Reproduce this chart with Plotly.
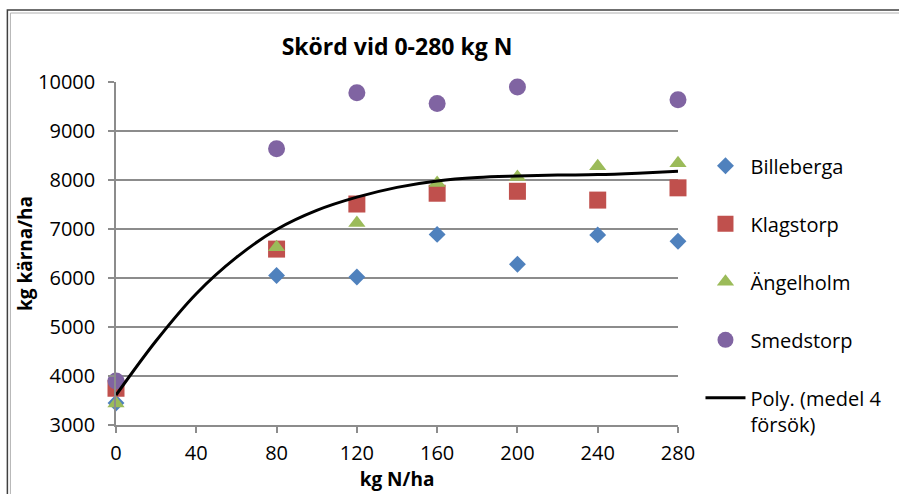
import plotly.graph_objects as go

x_n = [0, 80, 120, 160, 200, 240, 280]
billeberga = [3450, 6050, 6020, 6890, 6280, 6880, 6750]
klagstorp = [3750, 6590, 7510, 7730, 7770, 7590, 7840]
angelholm = [3440, 6630, 7120, 7940, 8060, 8280, 8340]
smed_x = [0, 80, 120, 160, 200, 280]
smedstorp = [3900, 8640, 9780, 9560, 9900, 9640]

trend_x = [0, 20, 40, 60, 80, 100, 120, 140, 160, 180, 200, 220, 240, 260, 280]
trend_y = [3610, 4720, 5680, 6420, 6990, 7380, 7650, 7850, 7980, 8050, 8080, 8100, 8110, 8140, 8180]

x_ticks = [0, 40, 80, 120, 160, 200, 240, 280]

FONT = "Open Sans"
GRID = "#8c8c8c"

fig = go.Figure()

series = [
    ("Billeberga", x_n, billeberga, "diamond", "#4F81BD", 13),
    ("Klagstorp", x_n, klagstorp, "square", "#C0504D", 17),
    ("Ängelholm", x_n, angelholm, "triangle-up", "#9BBB59", 15),
    ("Smedstorp", smed_x, smedstorp, "circle", "#8064A2", 17),
]
for name, xs, ys, sym, col, sz in series:
    fig.add_trace(go.Scatter(
        x=xs, y=ys, mode="markers", name=name, legendgroup=name,
        marker=dict(symbol=sym, color=col, size=sz, line=dict(width=0)),
        cliponaxis=False,
    ))

fig.add_trace(go.Scatter(
    x=trend_x, y=trend_y, mode="lines", name="Poly. (medel 4<br>försök)",
    legendgroup="poly", line=dict(color="black", width=3, shape="spline"),
    cliponaxis=False,
))

fig.update_layout(
    width=899, height=494,
    margin=dict(l=116, r=219, t=82, b=69),
    paper_bgcolor="white", plot_bgcolor="white",
    font=dict(family=FONT, size=20, color="black"),
    title=dict(text="<b>Skörd vid 0-280 kg N</b>", x=0.5, xref="paper",
               y=1 - 47 / 494, yanchor="middle", xanchor="center",
               font=dict(family=FONT, size=23, color="black")),
    xaxis=dict(range=[0, 280], tickvals=x_ticks, showgrid=False, zeroline=False,
               showline=True, linecolor=GRID, linewidth=1.5, automargin=False,
               ticks="outside", ticklen=6, tickcolor=GRID, tickwidth=1.5,
               ticklabelstandoff=3,
               tickfont=dict(family=FONT, size=20),
               title=dict(text="<b>kg N/ha</b>", font=dict(family=FONT, size=19), standoff=8)),
    yaxis=dict(range=[3000, 10000], dtick=1000, tickformat="d", showgrid=True,
               gridcolor=GRID, gridwidth=1.5, automargin=False,
               zeroline=False, showline=True, linecolor=GRID, linewidth=1.5,
               ticks="outside", ticklen=6, tickcolor=GRID, tickwidth=1.5,
               ticklabelstandoff=9,
               tickfont=dict(family=FONT, size=20),
               title=dict(text="<b>kg kärna/ha</b>", font=dict(family=FONT, size=19), standoff=0)),
    legend=dict(x=1.04, xanchor="left", y=0.8125, yanchor="top", itemwidth=40,
                font=dict(family=FONT, size=20), tracegroupgap=29, valign="top",
                bgcolor="rgba(0,0,0,0)"),
    shapes=[
        dict(type="rect", xref="paper", yref="paper",
             x0=(7 - 116) / 564, x1=(910 - 116) / 564,
             y0=(425 - 510) / 343, y1=(425 - 10) / 343,
             line=dict(color="#404040", width=1.5), fillcolor="rgba(0,0,0,0)"),
        dict(type="rect", xref="paper", yref="paper",
             x0=(10 - 116) / 564, x1=(910 - 116) / 564,
             y0=(425 - 510) / 343, y1=(425 - 13) / 343,
             line=dict(color="#b0b0b0", width=1), fillcolor="rgba(0,0,0,0)"),
    ],
)

fig.write_html("out.html")
